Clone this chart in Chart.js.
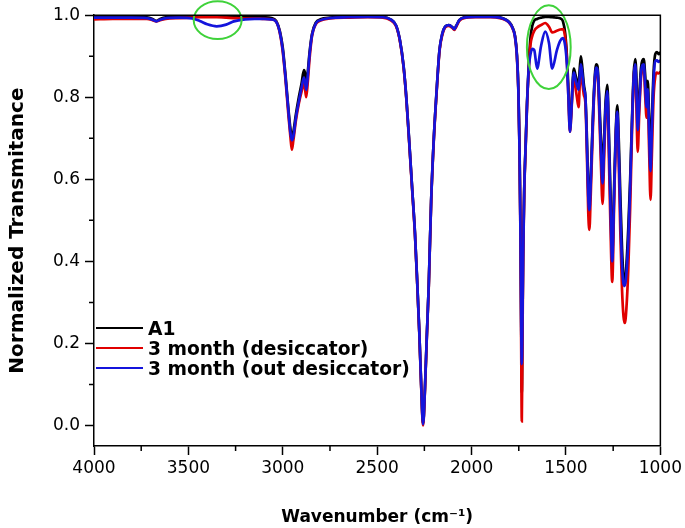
<!DOCTYPE html>
<html>
<head>
<meta charset="utf-8">
<script src="https://cdn.jsdelivr.net/npm/chart.js@4.4.1/dist/chart.umd.min.js"></script>
<style>
  html, body { margin: 0; padding: 0; background: #fff; }
  #wrap { position: relative; width: 685px; height: 528px; }
  #legend { position: absolute; left: 96px; top: 318px; font: bold 18.7px "DejaVu Sans", sans-serif; color: #000; }
  .row { display: flex; align-items: center; height: 20px; white-space: nowrap; }
  .swatch { width: 47px; height: 0; border-top: 2.5px solid #000; margin-right: 5px; }
</style>
</head>
<body>
<div id="wrap">
  <canvas id="myChart" width="685" height="528"></canvas>
  <div id="legend"></div>
</div>
<script>
// wavenumber grid (cm-1)
var wavenumbers = [4000, 3900, 3800, 3720, 3690, 3670, 3650, 3620, 3550, 3480, 3440, 3400, 3350, 3300, 3260, 3200, 3150, 3100, 3060, 3035,
  3015, 3000, 2985, 2970, 2960, 2952, 2944, 2930, 2915, 2900, 2888, 2882, 2876, 2868, 2858, 2845, 2825, 2800, 2750, 2650,
  2550, 2470, 2430, 2400, 2380, 2360, 2345, 2330, 2315, 2300, 2288, 2277, 2267, 2257, 2247, 2237, 2227, 2214, 2200, 2186, 2170,
  2155, 2140, 2120, 2100, 2092, 2080, 2065, 2040, 1980, 1900, 1850, 1820, 1800, 1785, 1770, 1760, 1752, 1746, 1741, 1737,
  1734, 1731, 1727, 1721, 1714, 1706, 1697, 1688, 1678, 1668, 1653, 1632, 1610, 1590, 1573, 1548, 1530, 1516, 1504, 1495,
  1487, 1479, 1471, 1465, 1458, 1450, 1442, 1433, 1427, 1421, 1413, 1405, 1397, 1389, 1382, 1376, 1369, 1360, 1350, 1340,
  1333, 1325, 1315, 1306, 1298, 1290, 1281, 1273, 1265, 1255, 1245, 1236, 1228, 1220, 1212, 1203, 1195, 1188, 1180, 1170,
  1160, 1150, 1141, 1133, 1127, 1120, 1112, 1103, 1095, 1088, 1080, 1073, 1067, 1060, 1052, 1045, 1036, 1027, 1018, 1009, 1000];

var a1 = [.996, .996, .996, .995, .991, .986, .991, .995, .996, .997, .997, .997, .997, .996, .996, .996, .996, .995, .993, .986,
  .960, .920, .850, .770, .725, .700, .715, .760, .800, .835, .866, .858, .835, .860, .910, .955, .982, .990, .994, .996,
  .997, .996, .990, .975, .940, .875, .795, .690, .580, .470, .350, .230, .100, .005, .090, .220, .340, .550, .700, .810, .915,
  .955, .972, .976, .970, .966, .975, .988, .995, .997, .997, .995, .990, .983, .972, .950, .905, .820, .680, .480, .250,
  .080, .220, .420, .580, .680, .790, .880, .945, .975, .987, .991, .994, .996, .996, .995, .994, .992, .985, .955, .900,
  .820, .730, .775, .835, .870, .855, .840, .830, .870, .900, .870, .830, .800, .700, .580, .540, .600, .720, .830, .880,
  .875, .810, .700, .620, .700, .790, .830, .720, .580, .420, .580, .720, .780, .690, .560, .430, .360, .345, .390, .480,
  .600, .750, .860, .893, .850, .740, .800, .870, .890, .893, .850, .800, .840, .760, .640, .740, .860, .905, .910, .905, .910];

var desiccator = [.990, .991, .991, .991, .988, .985, .988, .991, .993, .994, .995, .995, .995, .994, .993, .992, .992, .991, .990, .984,
  .955, .910, .840, .755, .705, .672, .695, .745, .785, .815, .835, .820, .800, .835, .895, .950, .978, .987, .992, .994,
  .995, .994, .988, .973, .938, .872, .792, .686, .576, .466, .346, .226, .096, .000, .086, .216, .336, .546, .696, .806, .912,
  .952, .970, .974, .968, .964, .973, .986, .993, .995, .995, .993, .988, .981, .970, .947, .900, .812, .670, .460, .180,
  .010, .170, .400, .570, .672, .782, .870, .928, .950, .962, .970, .976, .981, .972, .958, .962, .965, .966, .945, .890,
  .800, .716, .765, .820, .850, .825, .800, .776, .830, .862, .835, .805, .786, .660, .520, .477, .560, .690, .815, .865,
  .860, .780, .640, .540, .650, .760, .805, .660, .500, .350, .540, .700, .755, .630, .470, .330, .265, .250, .285, .380,
  .530, .720, .845, .873, .780, .667, .760, .845, .868, .870, .800, .750, .790, .680, .550, .660, .800, .850, .860, .858, .862];

var outDesiccator = [.994, .994, .994, .993, .989, .985, .989, .993, .994, .992, .986, .978, .973, .977, .985, .990, .991, .991, .990, .984,
  .957, .915, .845, .765, .715, .695, .705, .752, .790, .825, .848, .838, .818, .850, .905, .952, .980, .988, .993, .995,
  .996, .995, .990, .975, .940, .875, .795, .690, .580, .470, .350, .230, .100, .003, .090, .220, .340, .550, .700, .810, .915,
  .955, .972, .976, .970, .966, .975, .988, .994, .996, .996, .994, .989, .982, .971, .948, .902, .815, .672, .465, .240,
  .150, .230, .410, .575, .676, .786, .872, .905, .918, .915, .870, .925, .960, .932, .870, .915, .938, .944, .925, .880,
  .800, .716, .770, .828, .860, .845, .830, .818, .850, .880, .855, .820, .800, .680, .560, .525, .590, .710, .822, .872,
  .866, .800, .670, .590, .680, .775, .815, .700, .550, .400, .560, .710, .765, .660, .520, .390, .345, .340, .370, .450,
  .580, .740, .850, .880, .820, .720, .780, .855, .878, .880, .825, .776, .820, .720, .620, .720, .840, .888, .890, .886, .890];

var seriesNames = ['A1', '3 month (desiccator)', '3 month (out desiccator)'];
var seriesColors = ['#000000', '#e00000', '#1414dc'];

var xTicks = [4000, 3500, 3000, 2500, 2000, 1500, 1000];
var yTicks = [0.0, 0.2, 0.4, 0.6, 0.8, 1.0];
var xMinorTicks = [3750, 3250, 2750, 2250, 1750, 1250];
var yMinorTicks = [0.1, 0.3, 0.5, 0.7, 0.9];

// green rings in data units: centre wavenumber, centre value, half width, half height
var ringX = [3345, 1591];
var ringY = [0.988, 0.922];
var ringW = [127, 116];
var ringH = [0.046, 0.102];

Chart.defaults.font.family = '"DejaVu Sans", sans-serif';
Chart.defaults.color = '#000';

function toPoints(vals) {
  return wavenumbers.map(function (w, i) { return { x: w, y: vals[i] }; });
}

var allSeries = [a1, desiccator, outDesiccator];
var datasets = [];
for (var i = 0; i < allSeries.length; i++) {
  datasets.push({
    label: seriesNames[i],
    data: toPoints(allSeries[i]),
    borderColor: seriesColors[i],
    borderWidth: 2.7,
    pointRadius: 0,
    fill: false,
    cubicInterpolationMode: 'monotone',
    order: allSeries.length - i   // blue on top, black at the bottom
  });
}

var extras = {
  id: 'extras',
  afterDatasetsDraw: function (chart) {
    var ctx = chart.ctx, xs = chart.scales.x, ys = chart.scales.y;
    ctx.save();
    ctx.strokeStyle = '#3fd23a';
    ctx.lineWidth = 2;
    for (var k = 0; k < ringX.length; k++) {
      var cx = xs.getPixelForValue(ringX[k]);
      var cy = ys.getPixelForValue(ringY[k]);
      var rx = Math.abs(xs.getPixelForValue(ringX[k] + ringW[k]) - cx);
      var ry = Math.abs(ys.getPixelForValue(ringY[k] + ringH[k]) - cy);
      ctx.beginPath();
      ctx.ellipse(cx, cy, rx, ry, 0, 0, Math.PI * 2);
      ctx.stroke();
    }
    ctx.restore();
  },
  afterDraw: function (chart) {
    var ctx = chart.ctx, a = chart.chartArea, xs = chart.scales.x, ys = chart.scales.y;
    ctx.save();
    ctx.strokeStyle = '#000';
    ctx.lineWidth = 1.5;
    ctx.beginPath();
    ctx.moveTo(a.left, a.top);
    ctx.lineTo(a.right, a.top);
    ctx.lineTo(a.right, a.bottom);
    // minor ticks
    yMinorTicks.forEach(function (v) {
      var p = ys.getPixelForValue(v);
      ctx.moveTo(a.left - 5, p);
      ctx.lineTo(a.left, p);
    });
    xMinorTicks.forEach(function (v) {
      var p = xs.getPixelForValue(v);
      ctx.moveTo(p, a.bottom);
      ctx.lineTo(p, a.bottom + 5);
    });
    ctx.stroke();
    ctx.restore();
  }
};

var chart = new Chart(document.getElementById('myChart').getContext('2d'), {
  type: 'line',
  data: { datasets: datasets },
  options: {
    responsive: false,
    animation: false,
    layout: { padding: { top: 15, right: 23, left: 0, bottom: 0 } },
    plugins: { legend: { display: false }, tooltip: { enabled: false } },
    scales: {
      x: {
        type: 'linear',
        reverse: true,
        min: 1000,
        max: 4000,
        afterBuildTicks: function (s) { s.ticks = xTicks.map(function (v) { return { value: v }; }); },
        afterFit: function (s) { s.height = 82; },
        ticks: { font: { size: 17 }, padding: 3, maxRotation: 0, callback: function (v) { return String(v); } },
        grid: { drawOnChartArea: false, tickLength: 9, tickColor: '#000', tickWidth: 1.5 },
        border: { color: '#000', width: 1.5 },
        title: { display: true, text: 'Wavenumber (cm\u207B\u00B9)', font: { size: 17, weight: 'bold' }, padding: { top: 0, bottom: 0 } }
      },
      y: {
        min: -0.05,
        max: 1.0,
        afterBuildTicks: function (s) { s.ticks = yTicks.map(function (v) { return { value: v }; }); },
        afterFit: function (s) { s.width = 94; },
        ticks: { font: { size: 17 }, padding: 5, callback: function (v) { return v.toFixed(1); } },
        grid: { drawOnChartArea: false, tickLength: 9, tickColor: '#000', tickWidth: 1.5 },
        border: { color: '#000', width: 1.5 },
        title: { display: true, text: 'Normalized Transmitance', font: { size: 20, weight: 'bold' }, padding: { top: 6, bottom: 0 } }
      }
    }
  },
  plugins: [extras]
});

// legend inside the plot, bottom left
var legend = document.getElementById('legend');
chart.data.datasets.forEach(function (ds) {
  var row = document.createElement('div');
  row.className = 'row';
  var sw = document.createElement('span');
  sw.className = 'swatch';
  sw.style.borderTopColor = ds.borderColor;
  var txt = document.createElement('span');
  txt.textContent = ds.label;
  row.appendChild(sw);
  row.appendChild(txt);
  legend.appendChild(row);
});
</script>
</body>
</html>
